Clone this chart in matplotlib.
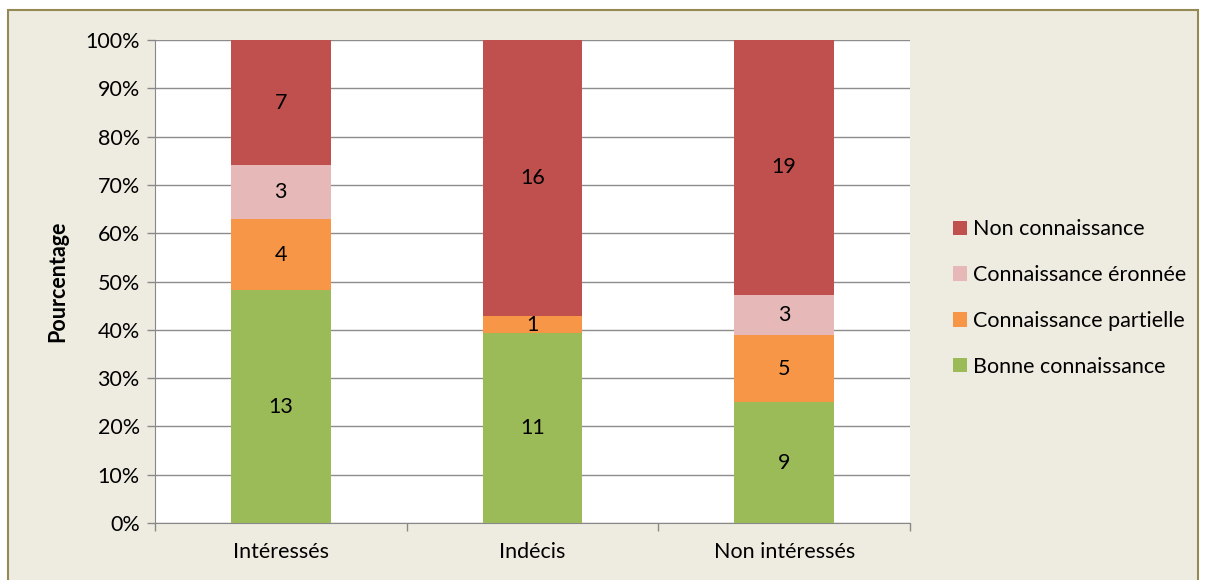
import matplotlib
matplotlib.use("Agg")
import matplotlib.pyplot as plt
import matplotlib.patches as mpatches
import numpy as np

plt.rcParams['font.family'] = ['Lato', 'DejaVu Sans']

categories = ["Intéressés", "Indécis", "Non intéressés"]
series_names = ["Bonne connaissance", "Connaissance partielle", "Connaissance éronnée", "Non connaissance"]
bonne = [13, 11, 9]
partielle = [4, 1, 5]
erronee = [3, 0, 3]
non = [7, 16, 19]
colors = ["#9BBB59", "#F79646", "#E6B9B8", "#C0504D"]
yticks = [0, 10, 20, 30, 40, 50, 60, 70, 80, 90, 100]

W, H = 1206, 580
fig = plt.figure(figsize=(W / 100, H / 100), dpi=100)
fig.patch.set_facecolor("white")
bg = mpatches.Rectangle((8 / W, -0.05), 1190 / W, 1.05 - 10 / H, transform=fig.transFigure,
                        facecolor="#EEECE1", edgecolor="#948A54", linewidth=1.5, zorder=-10)
fig.patches.append(bg)

ax = fig.add_axes([155 / W, 1 - 523 / H, (910 - 155) / W, (523 - 40) / H])
ax.set_zorder(1)
ax.set_facecolor("white")

data = np.array([bonne, partielle, erronee, non], dtype=float)
totals = data.sum(axis=0)
pct = data / totals * 100
x = np.arange(len(categories))
bottom = np.zeros(len(categories))
fs = 15.5
for i, name in enumerate(series_names):
    ax.bar(x, pct[i], 0.397, bottom=bottom, color=colors[i], label=name, zorder=3)
    for j in range(len(categories)):
        if data[i, j] > 0:
            ax.text(x[j], bottom[j] + pct[i, j] / 2, f"{int(data[i, j])}", ha="center", va="center",
                    fontsize=fs, color="black", zorder=4)
    bottom += pct[i]

ax.set_xlim(-0.5, len(categories) - 0.5)
ax.set_ylim(0, 100)
ax.set_yticks(yticks)
ax.set_yticklabels([f"{v}%" for v in yticks], fontsize=fs)
ax.set_xticks(x)
ax.set_xticklabels(categories, fontsize=fs)
ax.tick_params(axis="x", length=0, pad=14)
ax.set_xticks(np.arange(-0.5, len(categories)), minor=True)
ax.tick_params(axis="x", which="minor", length=6, color="#888888", width=1)
ax.tick_params(axis="y", length=6, color="#888888", width=1, pad=5)
ax.yaxis.grid(True, color="#8C8C8C", linewidth=1, zorder=1)
ax.set_axisbelow(True)
for s in ["top", "right"]:
    ax.spines[s].set_visible(False)
ax.spines["left"].set_color("#888888")
ax.spines["bottom"].set_color("#888888")
ax.set_ylabel("Pourcentage", fontsize=fs, fontweight="bold", labelpad=12)

handles, labels = ax.get_legend_handles_labels()
fig.legend(handles[::-1], labels[::-1], loc="center left", bbox_to_anchor=(934 / W, 1 - 298 / H),
           frameon=False, fontsize=fs, handlelength=0.65, handleheight=0.65, handletextpad=0.25,
           labelspacing=1.2)

fig.savefig("out.png", dpi=100)
